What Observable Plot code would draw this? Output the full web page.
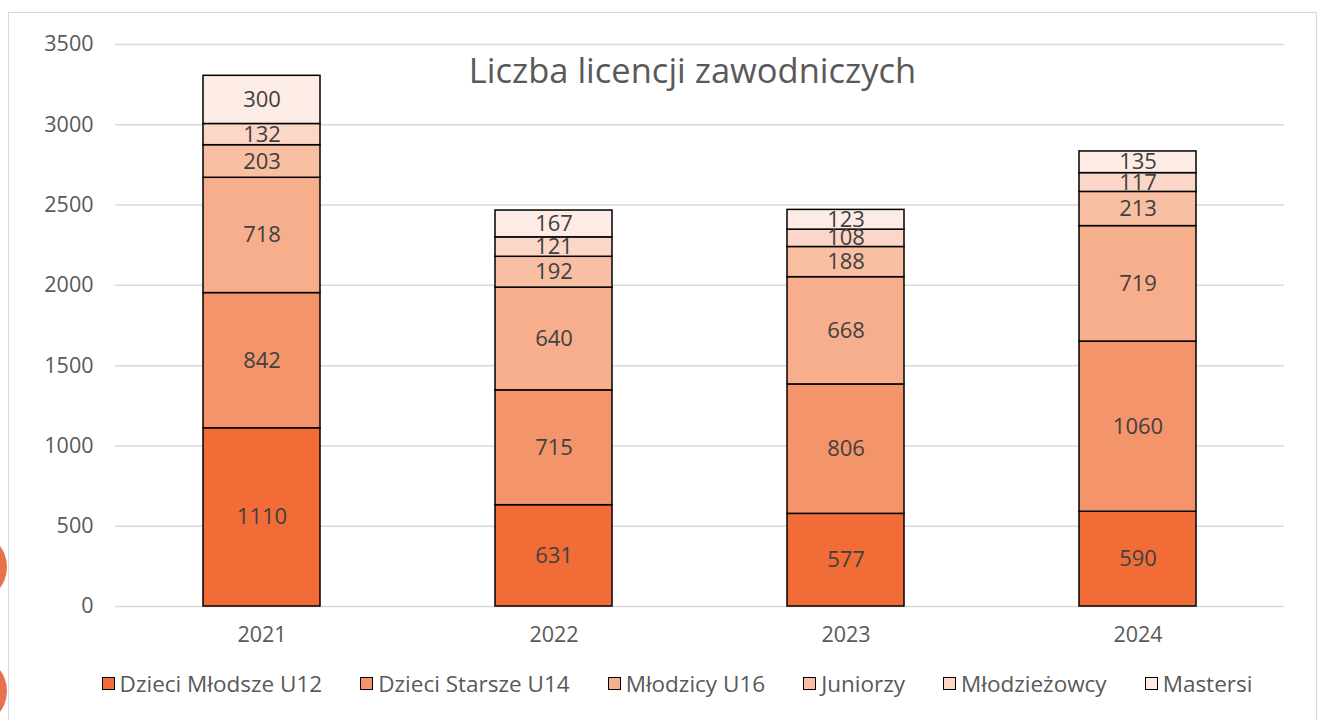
<!DOCTYPE html>
<html>
<head>
<meta charset="utf-8">
<script src="https://cdn.jsdelivr.net/npm/d3@7"></script>
<script src="https://cdn.jsdelivr.net/npm/@observablehq/plot@0.6"></script>
<style>
  html, body { margin: 0; padding: 0; background: #fff; }
  body { width: 1325px; height: 720px; position: relative; overflow: hidden; font-family: "Open Sans", sans-serif; }
  #frame { position: absolute; left: 8px; top: 12px; width: 1309px; height: 760px; border: 1.5px solid #d9d9d9; box-sizing: border-box; }
  .deco { position: absolute; width: 70px; height: 70px; border-radius: 50%; background: #E8704D; }
  #chart { position: absolute; left: 0; top: 0; }
  #title { position: absolute; left: 0; width: 1385px; top: 46px; text-align: center; font-size: 34.5px; color: #595959; }
  #legend { position: absolute; left: 40px; width: 1274px; top: 668px; display: flex; justify-content: center; gap: 38px; font-size: 22.5px; color: #595959; }
  .item { display: flex; align-items: center; gap: 5px; }
  .sw { width: 11px; height: 11px; border: 1.5px solid #000; }
</style>
</head>
<body>
<div id="frame"></div>
<div class="deco" style="left:-63px; top:532px;"></div>
<div class="deco" style="left:-63px; top:656px;"></div>
<div id="chart"></div>
<div id="title">Liczba licencji zawodniczych</div>
<div id="legend"></div>
<script>
const years = ["2021", "2022", "2023", "2024"];
const series = ["Dzieci Młodsze U12", "Dzieci Starsze U14", "Młodzicy U16", "Juniorzy", "Młodzieżowcy", "Mastersi"];
const colors = ["#F26C38", "#F4946A", "#F7AE8C", "#F9BFA3", "#FCD6C6", "#FDECE5"];
const u12 = [1110, 631, 577, 590];
const u14 = [842, 715, 806, 1060];
const u16 = [718, 640, 668, 719];
const juniorzy = [203, 192, 188, 213];
const mlodziezowcy = [132, 121, 108, 117];
const mastersi = [300, 167, 123, 135];
const yTicks = [0, 500, 1000, 1500, 2000, 2500, 3000, 3500];

const values = [u12, u14, u16, juniorzy, mlodziezowcy, mastersi];
const data = [];
series.forEach((s, i) => years.forEach((y, j) => data.push({year: y, series: s, value: values[i][j]})));

const chart = Plot.plot({
  width: 1325,
  height: 660,
  marginLeft: 115,
  marginRight: 41,
  marginTop: 44,
  marginBottom: 54,
  style: {fontFamily: "'Open Sans', sans-serif", color: "#595959", background: "transparent"},
  x: {domain: years, paddingInner: 0.6, paddingOuter: 0.3, label: null},
  y: {domain: [0, 3500], label: null},
  color: {domain: series, range: colors},
  marks: [
    Plot.gridY(yTicks, {stroke: "#d9d9d9", strokeOpacity: 1, strokeWidth: 1.5}),
    Plot.axisY({ticks: yTicks, tickFormat: "d", tickSize: 0, tickPadding: 22, fontSize: 21.5, label: null, fill: "#595959"}),
    Plot.axisX({tickSize: 0, tickPadding: 20, fontSize: 21.5, label: null, fill: "#595959"}),
    Plot.barY(data, Plot.stackY({order: null, x: "year", y: "value", z: "series", fill: "series", stroke: "#000", strokeWidth: 1.5})),
    Plot.text(data, Plot.stackY({order: null, x: "year", y: "value", z: "series", text: d => String(d.value), fill: "#404040", fontSize: 22}))
  ]
});
document.getElementById("chart").appendChild(chart);

const legend = document.getElementById("legend");
series.forEach((s, i) => {
  const it = document.createElement("div");
  it.className = "item";
  const sw = document.createElement("div");
  sw.className = "sw";
  sw.style.background = colors[i];
  const t = document.createElement("span");
  t.textContent = s;
  it.appendChild(sw);
  it.appendChild(t);
  legend.appendChild(it);
});
</script>
</body>
</html>
